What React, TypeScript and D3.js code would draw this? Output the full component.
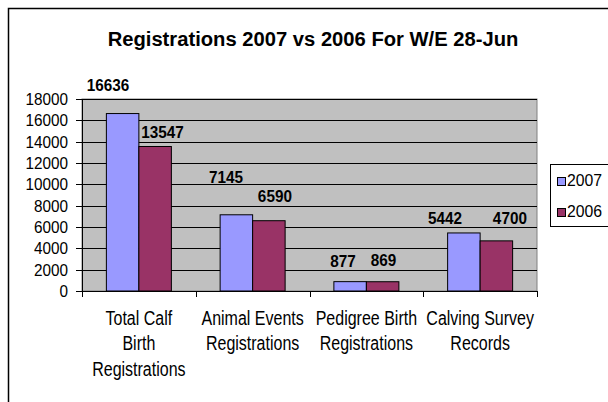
import React from "react";
import * as d3 from "d3";

const categories: string[][] = [
  ["Total Calf", "Birth", "Registrations"],
  ["Animal Events", "Registrations"],
  ["Pedigree Birth", "Registrations"],
  ["Calving Survey", "Records"],
];
const seriesNames = ["2007", "2006"];
const values2007 = [16636, 7145, 877, 5442];
const values2006 = [13547, 6590, 869, 4700];
const yTicks = [0, 2000, 4000, 6000, 8000, 10000, 12000, 14000, 16000, 18000];
const title = "Registrations 2007 vs 2006 For W/E 28-Jun";

// layout-only nudges for the data labels (dx from bar centre, gap above bar top)
const labelNudge2007 = [[-14.5, 23], [-10.5, 32], [-7, 15], [-19, 9]];
const labelNudge2006 = [[7.5, 8.5], [6, 18.5], [1, 15.5], [13.5, 17]];

const colors = ["#9999FF", "#993366"];
const FONT = "'Liberation Sans', Arial, sans-serif";

export default function App() {
  const W = 608, H = 402;
  const px0 = 82, px1 = 537, py0 = 99, py1 = 291;
  const keys = categories.map((c) => c.join(" "));
  const x = d3.scaleBand<string>().domain(keys).range([px0, px1]).paddingInner(0.4286).paddingOuter(0.2143);
  const xs = d3.scaleBand<string>().domain(seriesNames).range([0, x.bandwidth()]);
  const y = d3.scaleLinear().domain([0, 18000]).range([py1, py0]);
  const step = x.step();
  const series = [values2007, values2006];
  const nudges = [labelNudge2007, labelNudge2006];

  return (
    <svg width={W} height={H} style={{ position: "absolute", left: 0, top: 0 }} fontFamily={FONT}>
      <rect x={0} y={0} width={W} height={H} fill="#fff" />
      {/* chart area frame */}
      <rect x={8.5} y={8.5} width={700} height={500} fill="#fff" stroke="#000" strokeWidth={1.5} />
      {/* title */}
      <text x={0} y={0} textAnchor="middle" fontWeight="bold" fontSize={20} transform="translate(313,46) scale(1.01,1)">
        {title}
      </text>
      {/* plot area */}
      <rect x={px0} y={py0} width={px1 - px0} height={py1 - py0} fill="#C0C0C0" stroke="#808080" strokeWidth={1} />
      {yTicks.map((t) => (
        <line key={"g" + t} x1={px0} x2={px1} y1={Math.round(y(t)) + 0.5} y2={Math.round(y(t)) + 0.5} stroke="#000" strokeWidth={1} />
      ))}
      {/* bars */}
      {keys.map((k, i) => (
        <g key={k}>
          {series.map((vals, s) => (
            <rect
              key={s}
              x={(x(k) as number) + (xs(seriesNames[s]) as number)}
              y={y(vals[i])}
              width={xs.bandwidth()}
              height={py1 - y(vals[i])}
              fill={colors[s]}
              stroke="#000"
              strokeWidth={1}
            />
          ))}
        </g>
      ))}
      {/* axes */}
      <line x1={px0 + 0.5} x2={px0 + 0.5} y1={py0} y2={py1} stroke="#000" />
      <line x1={px0} x2={px1} y1={py1 + 0.5} y2={py1 + 0.5} stroke="#000" />
      {yTicks.map((t) => (
        <g key={"t" + t}>
          <line x1={px0 - 6} x2={px0} y1={Math.round(y(t)) + 0.5} y2={Math.round(y(t)) + 0.5} stroke="#000" />
          <text x={0} y={0} textAnchor="end" fontSize={17} transform={`translate(68,${y(t) + 6}) scale(0.9,1)`}>
            {t}
          </text>
        </g>
      ))}
      {d3.range(keys.length + 1).map((i) => (
        <line key={"xt" + i} x1={Math.round(px0 + i * step) + 0.5} x2={Math.round(px0 + i * step) + 0.5} y1={py1} y2={py1 + 6} stroke="#000" />
      ))}
      {/* category labels */}
      {categories.map((lines, i) => (
        <g key={"c" + i}>
          {lines.map((ln, j) => (
            <text
              key={j}
              x={0}
              y={0}
              textAnchor="middle"
              fontSize={20}
              transform={`translate(${(x(keys[i]) as number) + x.bandwidth() / 2},${325 + j * 25.3}) scale(0.8,1)`}
            >
              {ln}
            </text>
          ))}
        </g>
      ))}
      {/* data labels */}
      {keys.map((k, i) =>
        series.map((vals, s) => {
          const cx = (x(k) as number) + (xs(seriesNames[s]) as number) + xs.bandwidth() / 2 + nudges[s][i][0];
          const by = y(vals[i]) - nudges[s][i][1];
          return (
            <text key={k + s} x={0} y={0} textAnchor="middle" fontWeight="bold" fontSize={17} transform={`translate(${cx},${by}) scale(0.9,1)`}>
              {vals[i]}
            </text>
          );
        })
      )}
      {/* legend */}
      <rect x={550.5} y={164.5} width={80} height={62} fill="#fff" stroke="#000" strokeWidth={1} />
      {seriesNames.map((n, s) => (
        <g key={n}>
          <rect x={557.5} y={177.5 + s * 31} width={8} height={8} fill={colors[s]} stroke="#000" strokeWidth={1} />
          <text x={0} y={0} fontSize={17} transform={`translate(567,${186 + s * 31}) scale(0.93,1)`}>
            {n}
          </text>
        </g>
      ))}
    </svg>
  );
}
